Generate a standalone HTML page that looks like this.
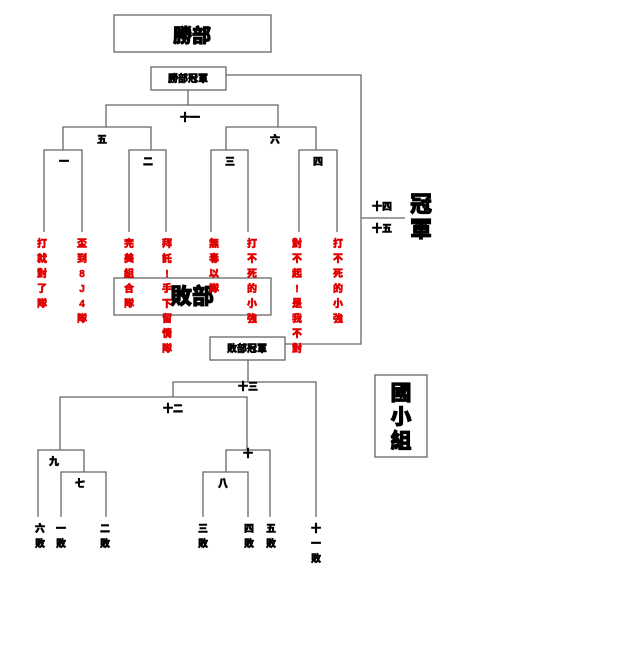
<!DOCTYPE html>
<html><head><meta charset="utf-8"><style>
html,body{margin:0;padding:0;background:#fff;}
svg{display:block;}
text{font-family:"Liberation Sans","Noto Sans CJK TC","WenQuanYi Zen Hei",sans-serif;font-weight:900;}
.b{font-size:10px;fill:#000;stroke:#000;stroke-width:0.5;text-anchor:middle;}
.r{font-size:10px;fill:#e00000;stroke:#e00000;stroke-width:0.5;text-anchor:middle;}
.L{fill:#000;stroke:#000;stroke-width:0.8;text-anchor:middle;}
</style></head><body>
<svg width="620" height="649" viewBox="0 0 620 649" xmlns="http://www.w3.org/2000/svg">
<g fill="none" stroke="#666" stroke-width="1.3">
<rect x="114" y="15" width="157" height="37"/>
<rect x="151" y="67" width="75" height="23"/>
<rect x="114" y="278" width="157" height="37"/>
<rect x="210" y="337" width="75" height="23"/>
<rect x="375" y="375" width="52" height="82"/>
<path d="M188 90V105M106 127V105H278V127"/>
<path d="M44 232V150H82V232M63 150V127H151V150M129 232V150H166V232"/>
<path d="M211 232V150H248V232M226 150V127H316V150M299 232V150H337V232"/>
<path d="M226 75H361V344H285M361 218H405"/>
<path d="M248 360V382M173 397V382H316V517"/>
<path d="M60 450V397H247V450"/>
<path d="M38 517V450H84V472M61 517V472H106V517"/>
<path d="M226 472V450H270V517M203 517V472H248V517"/>
</g>
<text class="L" x="192" y="42" font-size="19">勝部</text>
<text class="b" x="188" y="82">勝部冠軍</text>
<text class="L" x="192" y="304" font-size="22">敗部</text>
<text class="b" x="247" y="352">敗部冠軍</text>
<text class="b" x="190" y="121">十一</text>
<text class="b" x="102" y="143">五</text>
<text class="b" x="275" y="143">六</text>
<text class="b" x="64" y="165">一</text>
<text class="b" x="148" y="165">二</text>
<text class="b" x="230" y="165">三</text>
<text class="b" x="318" y="165">四</text>
<text class="b" x="382" y="210">十四</text>
<text class="b" x="382" y="232">十五</text>
<text class="L" x="421" y="212" font-size="22">冠</text>
<text class="L" x="421" y="237" font-size="22">軍</text>
<text class="L" x="401" y="400" font-size="21">國</text>
<text class="L" x="401" y="424" font-size="21">小</text>
<text class="L" x="401" y="448" font-size="21">組</text>
<text class="b" x="248" y="390">十三</text>
<text class="b" x="173" y="412">十二</text>
<text class="b" x="54" y="465">九</text>
<text class="b" x="80" y="487">七</text>
<text class="b" x="248" y="457">十</text>
<text class="b" x="223" y="487">八</text>
<text class="b" x="40" y="532">六</text><text class="b" x="40" y="547">敗</text>
<text class="b" x="61" y="532">一</text><text class="b" x="61" y="547">敗</text>
<text class="b" x="105" y="532">二</text><text class="b" x="105" y="547">敗</text>
<text class="b" x="203" y="532">三</text><text class="b" x="203" y="547">敗</text>
<text class="b" x="249" y="532">四</text><text class="b" x="249" y="547">敗</text>
<text class="b" x="271" y="532">五</text><text class="b" x="271" y="547">敗</text>
<text class="b" x="316" y="532">十</text><text class="b" x="316" y="547">一</text><text class="b" x="316" y="562">敗</text>
<text class="r" x="42" y="247">打</text><text class="r" x="42" y="262">就</text><text class="r" x="42" y="277">對</text><text class="r" x="42" y="292">了</text><text class="r" x="42" y="307">隊</text>
<text class="r" x="82" y="247">盃</text><text class="r" x="82" y="262">到</text><text class="r" x="82" y="277">8</text><text class="r" x="82" y="292">J</text><text class="r" x="82" y="307">4</text><text class="r" x="82" y="322">隊</text>
<text class="r" x="129" y="247">完</text><text class="r" x="129" y="262">美</text><text class="r" x="129" y="277">組</text><text class="r" x="129" y="292">合</text><text class="r" x="129" y="307">隊</text>
<text class="r" x="167" y="247">拜</text><text class="r" x="167" y="262">託</text><text class="r" x="167" y="277">!</text><text class="r" x="167" y="292">手</text><text class="r" x="167" y="307">下</text><text class="r" x="167" y="322">留</text><text class="r" x="167" y="337">情</text><text class="r" x="167" y="352">隊</text>
<text class="r" x="214" y="247">無</text><text class="r" x="214" y="262">毒</text><text class="r" x="214" y="277">以</text><text class="r" x="214" y="292">隊</text>
<text class="r" x="252" y="247">打</text><text class="r" x="252" y="262">不</text><text class="r" x="252" y="277">死</text><text class="r" x="252" y="292">的</text><text class="r" x="252" y="307">小</text><text class="r" x="252" y="322">強</text>
<text class="r" x="297" y="247">對</text><text class="r" x="297" y="262">不</text><text class="r" x="297" y="277">起</text><text class="r" x="297" y="292">!</text><text class="r" x="297" y="307">是</text><text class="r" x="297" y="322">我</text><text class="r" x="297" y="337">不</text><text class="r" x="297" y="352">對</text>
<text class="r" x="338" y="247">打</text><text class="r" x="338" y="262">不</text><text class="r" x="338" y="277">死</text><text class="r" x="338" y="292">的</text><text class="r" x="338" y="307">小</text><text class="r" x="338" y="322">強</text>
</svg>
</body></html>
